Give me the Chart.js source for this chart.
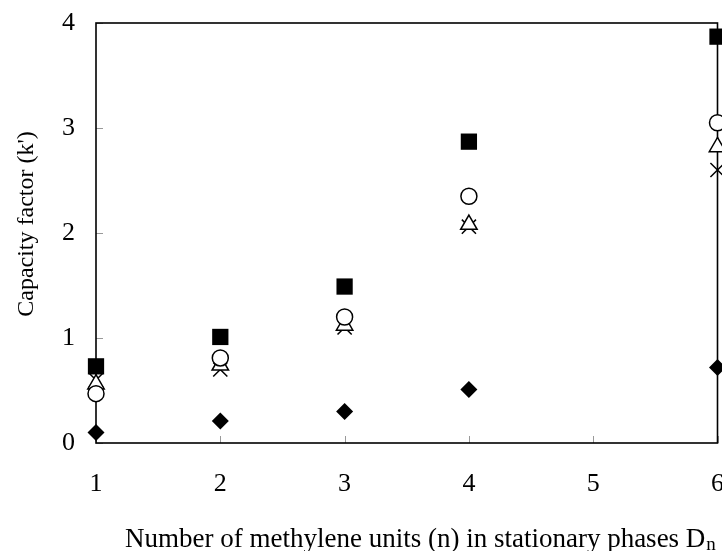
<!DOCTYPE html>
<html>
<head>
<meta charset="utf-8">
<script src="https://cdn.jsdelivr.net/npm/chart.js@4/dist/chart.umd.min.js"></script>
<style>
html,body{margin:0;padding:0;background:#fff;overflow:hidden;}
#wrap{width:722px;height:551px;position:relative;overflow:hidden;}
</style>
</head>
<body>
<div id="wrap"><canvas id="c" width="729" height="551"></canvas></div>
<script>
const nValues = [1, 2, 3, 4, 6];
const squareSeries   = [0.73, 1.01, 1.49, 2.87, 3.87];
const circleSeries   = [0.47, 0.81, 1.20, 2.35, 3.05];
const triangleSeries = [0.56, 0.74, 1.12, 2.08, 2.82];
const crossSeries    = [0.60, 0.70, 1.10, 2.06, 2.60];
const diamondSeries  = [0.10, 0.21, 0.30, 0.51, 0.72];
const xTicks = [1, 2, 3, 4, 5, 6];
const yTicks = [0, 1, 2, 3, 4];

const FONT = "'Liberation Serif', 'Times New Roman', serif";

function pts(arr){ return arr.map((v,i)=>({x:nValues[i], y:v})); }

const framePlugin = {
  id:'frame',
  beforeDatasetsDraw(chart){
    const {ctx, chartArea:a, scales} = chart;
    ctx.save();
    ctx.strokeStyle = '#999';
    ctx.lineWidth = 1;
    yTicks.forEach(v=>{
      const y = Math.round(scales.y.getPixelForValue(v))+0.5;
      ctx.beginPath(); ctx.moveTo(a.left, y); ctx.lineTo(a.left+7, y); ctx.stroke();
    });
    xTicks.forEach(v=>{
      const x = Math.round(scales.x.getPixelForValue(v))+0.5;
      ctx.beginPath(); ctx.moveTo(x, a.bottom); ctx.lineTo(x, a.bottom-7); ctx.stroke();
    });
    ctx.strokeStyle = '#000';
    ctx.lineWidth = 1.6;
    ctx.strokeRect(a.left, a.top, a.right-a.left, a.bottom-a.top);
    ctx.restore();
  },
  afterDraw(chart){
    const {ctx} = chart;
    ctx.save();
    ctx.fillStyle = '#000';
    ctx.textBaseline = 'alphabetic';
    const main = 'Number of methylene units (n) in stationary phases D';
    const sub = 'n';
    ctx.font = '27px ' + FONT;
    const w1 = ctx.measureText(main).width;
    ctx.textAlign = 'left';
    ctx.fillText(main, 125, 547);
    ctx.font = '19px ' + FONT;
    ctx.fillText(sub, 125 + w1 + 1, 550);
    ctx.translate(33, 224);
    ctx.rotate(-Math.PI/2);
    ctx.font = '24px ' + FONT;
    ctx.textAlign = 'center';
    ctx.fillText("Capacity factor (k')", 0, 0);
    ctx.restore();
  }
};

const common = {showLine:false, clip:false, borderColor:'#000'};

new Chart(document.getElementById('c'), {
  type:'scatter',
  data:{
    datasets:[
      Object.assign({label:'squares', data:pts(squareSeries), pointStyle:'rect', pointRadius:11.5, backgroundColor:'#000', borderWidth:0}, common),
      Object.assign({label:'circles', data:pts(circleSeries), pointStyle:'circle', pointRadius:8, backgroundColor:'#fff', borderWidth:1.5}, common),
      Object.assign({label:'triangles', data:pts(triangleSeries), pointStyle:'triangle', pointRadius:9.5, backgroundColor:'#fff', borderWidth:1.5}, common),
      Object.assign({label:'crosses', data:pts(crossSeries), pointStyle:'crossRot', pointRadius:10, backgroundColor:'#fff', borderWidth:1.5}, common),
      Object.assign({label:'diamonds', data:pts(diamondSeries), pointStyle:'rectRot', pointRadius:8.5, backgroundColor:'#000', borderWidth:0}, common)
    ]
  },
  options:{
    responsive:false,
    animation:false,
    events:[],
    layout:{padding:{left:0, right:0, top:23, bottom:0}},
    plugins:{legend:{display:false}, tooltip:{enabled:false}},
    scales:{
      x:{
        type:'linear', min:1, max:6,
        afterBuildTicks(s){ s.ticks = xTicks.map(v=>({value:v})); },
        afterFit(s){ s.height = 108; s.paddingLeft = 0; s.paddingRight = 0; },
        grid:{display:false, drawTicks:false},
        border:{display:false},
        ticks:{color:'#000', padding:26, font:{family:FONT, size:26}, maxRotation:0, autoSkip:false}
      },
      y:{
        type:'linear', min:0, max:4,
        afterBuildTicks(s){ s.ticks = yTicks.map(v=>({value:v})); },
        afterFit(s){ s.width = 96; s.paddingTop = 0; s.paddingBottom = 0; },
        grid:{display:false, drawTicks:false},
        border:{display:false},
        ticks:{color:'#000', padding:21, font:{family:FONT, size:26}}
      }
    }
  },
  plugins:[framePlugin]
});
</script>
</body>
</html>
